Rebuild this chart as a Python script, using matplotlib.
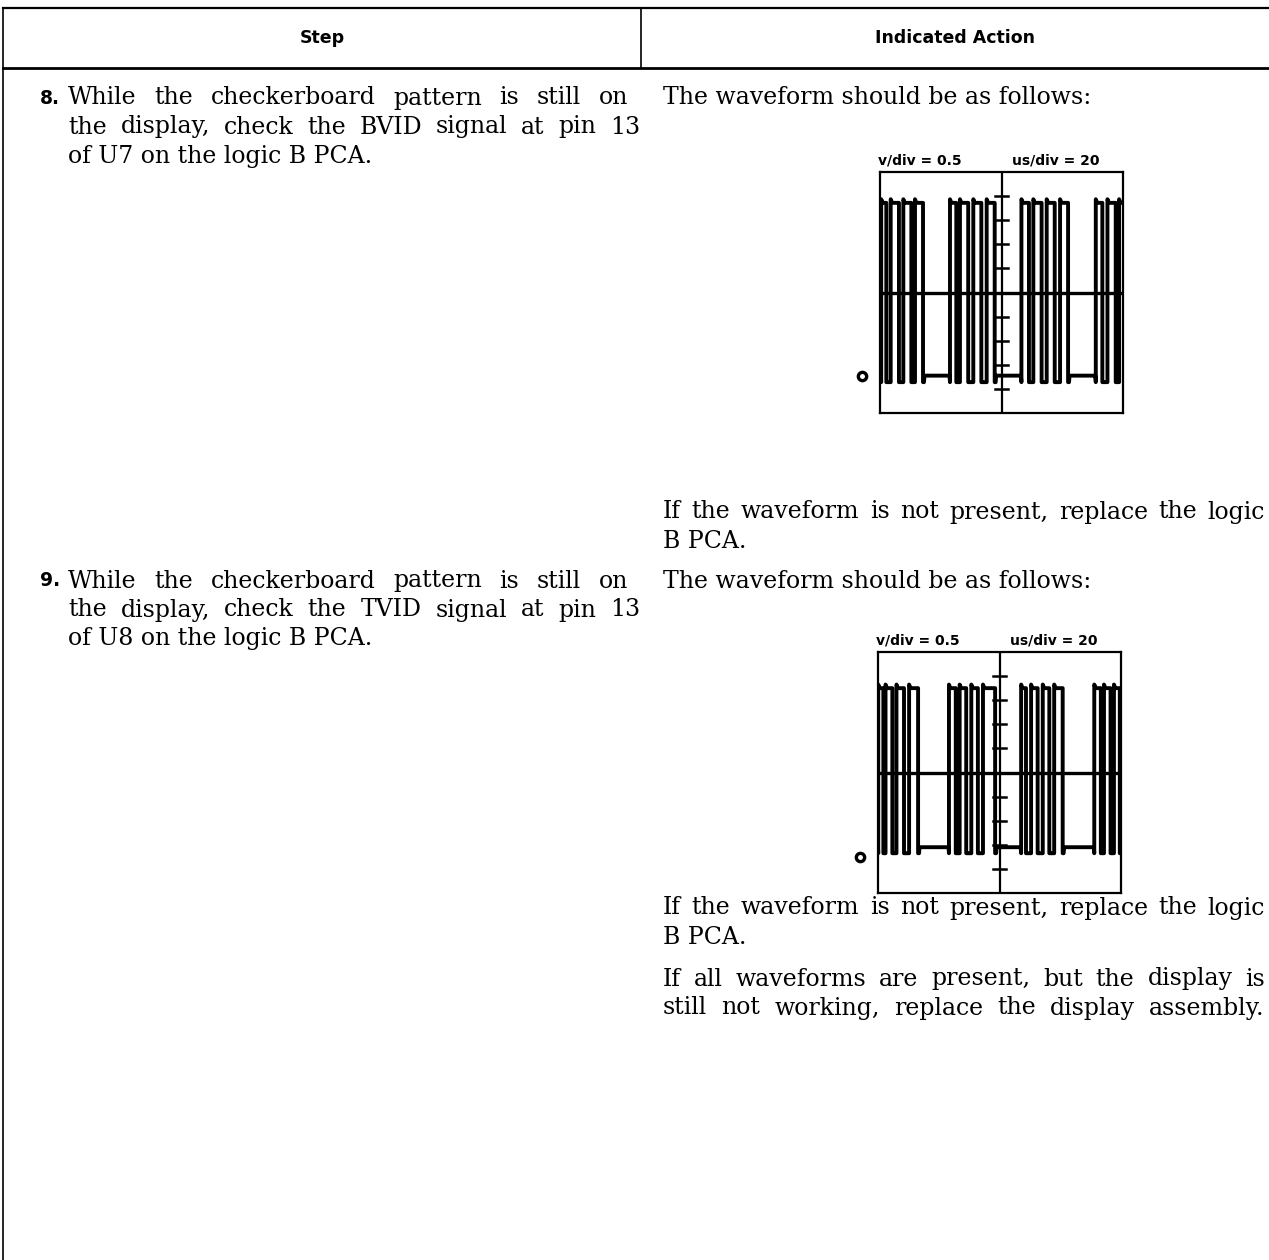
import matplotlib
matplotlib.use('Agg')
from matplotlib import pyplot as plt

# ---- data ----
header_cols = ['Step', 'Indicated Action']

step_nums = ['8.', '9.']
step_lines = [
    ['While the checkerboard pattern is still on',
     'the display, check the BVID signal at pin 13',
     'of U7 on the logic B PCA.'],
    ['While the checkerboard pattern is still on',
     'the display, check the TVID signal at pin 13',
     'of U8 on the logic B PCA.'],
]
action_intro = 'The waveform should be as follows:'
action_fail = ['If the waveform is not present, replace the logic', 'B PCA.']
action_final = ['If all waveforms are present, but the display is',
                'still not working, replace the display assembly.']

scope_labels = ['v/div = 0.5', 'us/div = 20']

# high intervals of each trace (rising edge, falling edge), in divisions
bvid_highs = [(0.05, 0.26), (0.44, 0.78), (0.96, 1.29), (1.44, 1.77),
              (2.88, 3.14), (3.29, 3.63), (3.84, 4.17), (4.39, 4.72),
              (5.82, 6.13), (6.31, 6.65), (6.86, 7.19), (7.41, 7.74),
              (8.88, 9.15), (9.36, 9.70), (9.84, 10.2)]
tvid_highs = [(0.01, 0.22), (0.31, 0.59), (0.76, 1.07), (1.28, 1.65),
              (2.92, 3.20), (3.36, 3.63), (3.84, 4.11), (4.32, 4.82),
              (5.89, 6.09), (6.30, 6.57), (6.78, 7.05), (7.25, 7.60),
              (8.90, 9.17), (9.30, 9.57), (9.71, 9.95)]
# levels in divisions: top, bottom of pulses, idle level, ground marker
bvid_levels = [3.72, -3.72, -3.45, -3.47]
tvid_levels = [3.5, -3.35, -3.1, -3.5]

W, H = 1269, 1260
fig = plt.figure(figsize=(W / 100, H / 100), dpi=100)
ax = fig.add_axes([0, 0, 1, 1])
ax.set_xlim(0, W)
ax.set_ylim(H, 0)
ax.axis('off')
renderer = fig.canvas.get_renderer()

serif = 'DejaVu Serif'
heavy = 'DejaVu Sans'

# table rules
ax.plot([3, W], [8, 8], color='black', lw=1.6)
ax.plot([3, W], [68, 68], color='black', lw=2.0)
ax.plot([3, 3], [8, H], color='black', lw=1.2)
ax.plot([641, 641], [8, 68], color='black', lw=1.2)

ax.text(322, 38, header_cols[0], ha='center', va='center', fontsize=12.5,
        fontweight='heavy', family=heavy)
ax.text(955, 38, header_cols[1], ha='center', va='center', fontsize=12.5,
        fontweight='heavy', family=heavy)


def line(x, y, s, end=None):
    # justified line: words spread out so the line ends at `end`
    if end is None:
        ax.text(x, y, s, ha='left', va='center', fontsize=17, family=serif)
        return
    words = s.split()
    objs = [ax.text(0, y, wd, ha='left', va='center', fontsize=17, family=serif)
            for wd in words]
    widths = [o.get_window_extent(renderer).width for o in objs]
    gap = (end - x - sum(widths)) / (len(words) - 1)
    cx = x
    for o, wdt in zip(objs, widths):
        o.set_x(cx)
        cx += wdt + gap


def scope(left, top, highs, levels):
    w, h = 243, 241
    sa = fig.add_axes([left / W, 1 - (top + h) / H, w / W, h / H])
    sa.set_xlim(0, 10)
    sa.set_ylim(-5, 5)
    sa.set_xticks([])
    sa.set_yticks([])
    for sp in sa.spines.values():
        sp.set_linewidth(1.6)
    sa.axhline(0, color='black', lw=2.4)
    sa.axvline(5, color='black', lw=1.6)
    for k in [-4, -3, -2, -1, 1, 2, 3, 4]:
        sa.plot([4.75, 5.25], [k, k], color='black', lw=1.8)
    top_v, low_v, idle_v, gnd = levels
    xs, ys = [0], [idle_v]
    prev_fall = None
    for r, f in highs:
        if prev_fall is not None and r - prev_fall > 0.5:
            xs += [prev_fall + 0.06, r - 0.02]
            ys += [idle_v, idle_v]
        xs += [r, r, r + 0.06, f, f, f + 0.04]
        ys += [low_v, top_v + 0.15, top_v, top_v, low_v, low_v]
        prev_fall = f
    sa.plot(xs, ys, color='black', lw=2.8, solid_joinstyle='round')
    sa.plot([-0.75], [gnd], 'o', ms=6, mfc='white', mec='black', mew=2.4,
            clip_on=False)
    ax.text(left + 40, top - 12, scope_labels[0], ha='center', va='center',
            fontsize=10, fontweight='heavy', family=heavy)
    ax.text(left + 176, top - 12, scope_labels[1], ha='center', va='center',
            fontsize=10, fontweight='heavy', family=heavy)


# step 8
ax.text(40, 98, step_nums[0], ha='left', va='center', fontsize=13.5,
        fontweight='heavy', family=heavy)
line(68, 98, step_lines[0][0], end=628)
line(68, 127, step_lines[0][1], end=640)
line(68, 156, step_lines[0][2])
line(663, 98, action_intro)
scope(880, 172, bvid_highs, bvid_levels)
line(663, 512, action_fail[0], end=1265)
line(663, 541, action_fail[1])

# step 9
ax.text(40, 581, step_nums[1], ha='left', va='center', fontsize=13.5,
        fontweight='heavy', family=heavy)
line(68, 581, step_lines[1][0], end=628)
line(68, 610, step_lines[1][1], end=640)
line(68, 639, step_lines[1][2])
line(663, 581, action_intro)
scope(878, 652, tvid_highs, tvid_levels)
line(663, 908, action_fail[0], end=1265)
line(663, 937, action_fail[1])
line(663, 979, action_final[0], end=1265)
line(663, 1008, action_final[1], end=1265)

fig.savefig('out.png', dpi=100)
